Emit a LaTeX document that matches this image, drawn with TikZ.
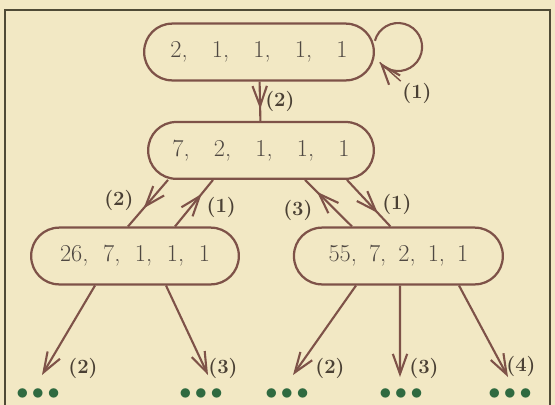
\documentclass[tikz,border=0pt]{standalone}
\usepackage{tikz}
\usetikzlibrary{arrows.meta,positioning,calc,decorations.markings}
\definecolor{paper}{HTML}{F2E8C4}
\definecolor{edgebrown}{HTML}{7E5248}
\definecolor{framegray}{HTML}{4F4A36}
\definecolor{digitgray}{HTML}{4F4842}
\definecolor{labelgray}{HTML}{4A4034}
\definecolor{dotgreen}{HTML}{2F6A40}

\begin{document}
\begin{tikzpicture}[
  state/.style={draw=edgebrown,line width=1.6pt,rounded corners=0.7cm,minimum height=1.42cm,font=\LARGE,text=digitgray,inner sep=2pt},
  link/.style={edgebrown,line width=1.5pt},
  arr/.style={link,-{Straight Barb[length=5mm,width=3.6mm]}},
  midarr/.style={link,postaction=decorate,decoration={markings,mark=at position #1 with {\arrow{Straight Barb[length=5mm,width=3.6mm]}}}},
  lab/.style={font=\Large\bfseries,text=labelgray,inner sep=1pt},
  dots/.style={font=\LARGE,text=dotgreen,inner sep=0pt}]
\useasboundingbox (0,0) rectangle (13.875,-10.125);
\fill[paper] (0,0) rectangle (13.875,-10.125);
\draw[framegray,line width=2pt] (0.125,-10.125) -- (0.125,-0.25) -- (13.75,-0.25) -- (13.75,-10.125);
\node[state,minimum width=5.74cm] (s0) at (6.475,-1.3) {2,\quad 1,\quad 1,\quad 1,\quad 1};
\node[state,minimum width=5.64cm] (s1) at (6.525,-3.76) {7,\quad 2,\quad 1,\quad 1,\quad 1};
\node[state,minimum width=5.19cm] (s2) at (3.375,-6.4) {26,\ \ 7,\ \ 1,\ \ 1,\ \ 1};
\node[state,minimum width=5.22cm] (s3) at (9.96,-6.4) {55,\enspace 7,\enspace 2,\enspace 1,\enspace 1};
\draw[arr] ([yshift=0.28cm]s0.east) arc[start angle=165,end angle=-140,radius=0.6cm] coordinate (lt);
\node[lab] (l0) at (10.425,-2.325) {(1)};
\draw[link,line width=1pt] (lt) -- (l0.north west);
\draw[midarr=0.7] (s0) -- node[lab,right=2pt] {(2)} (s1);
\draw[midarr=0.61] ([xshift=-2.325cm]s1.south) -- node[lab,left=10pt,pos=0.45] {(2)} ([xshift=-0.175cm]s2.north);
\draw[midarr=0.7] ([xshift=1cm]s2.north) -- node[lab,right=10pt,pos=0.4] {(1)} ([xshift=-1.2cm]s1.south);
\draw[midarr=0.745] ([xshift=-1.16cm]s3.north) -- node[lab,left=15pt,pos=0.34] {(3)} ([xshift=1.1cm]s1.south);
\draw[midarr=0.71] ([xshift=2.15cm]s1.south) -- node[lab,right=7pt,pos=0.53] {(1)} ([xshift=-0.2cm]s3.north);
\foreach \n/\x/\y in {1/1.05/-9.375,2/5.2/-9.375,3/7.325/-9.375,4/10/-9.425,5/12.7/-9.425}
  \coordinate (e\n) at (\x,\y);
\draw[arr] ([xshift=-1cm]s2.south) -- (e1);
\draw[arr] ([xshift=0.775cm]s2.south) -- (e2);
\draw[arr] ([xshift=-1.06cm]s3.south) -- (e3);
\draw[arr] ([xshift=0.04cm]s3.south) -- (e4);
\draw[arr] ([xshift=1.515cm]s3.south) -- (e5);
\node[lab] (b1) at (2.075,-9.2) {(2)};
\node[lab] (b2) at (5.575,-9.2) {(3)};
\node[lab] (b3) at (8.25,-9.2) {(2)};
\node[lab] (b4) at (10.6,-9.2) {(3)};
\node[lab] (b5) at (13.025,-9.15) {(4)};
\foreach \n/\x in {1/0.95,2/5.025,3/7.175,4/10.025,5/12.75}
  \node[dots] (d\n) at (\x,-9.85) {$\bullet$\hspace{2.5pt}$\bullet$\hspace{2.5pt}$\bullet$};
\end{tikzpicture}
\end{document}
